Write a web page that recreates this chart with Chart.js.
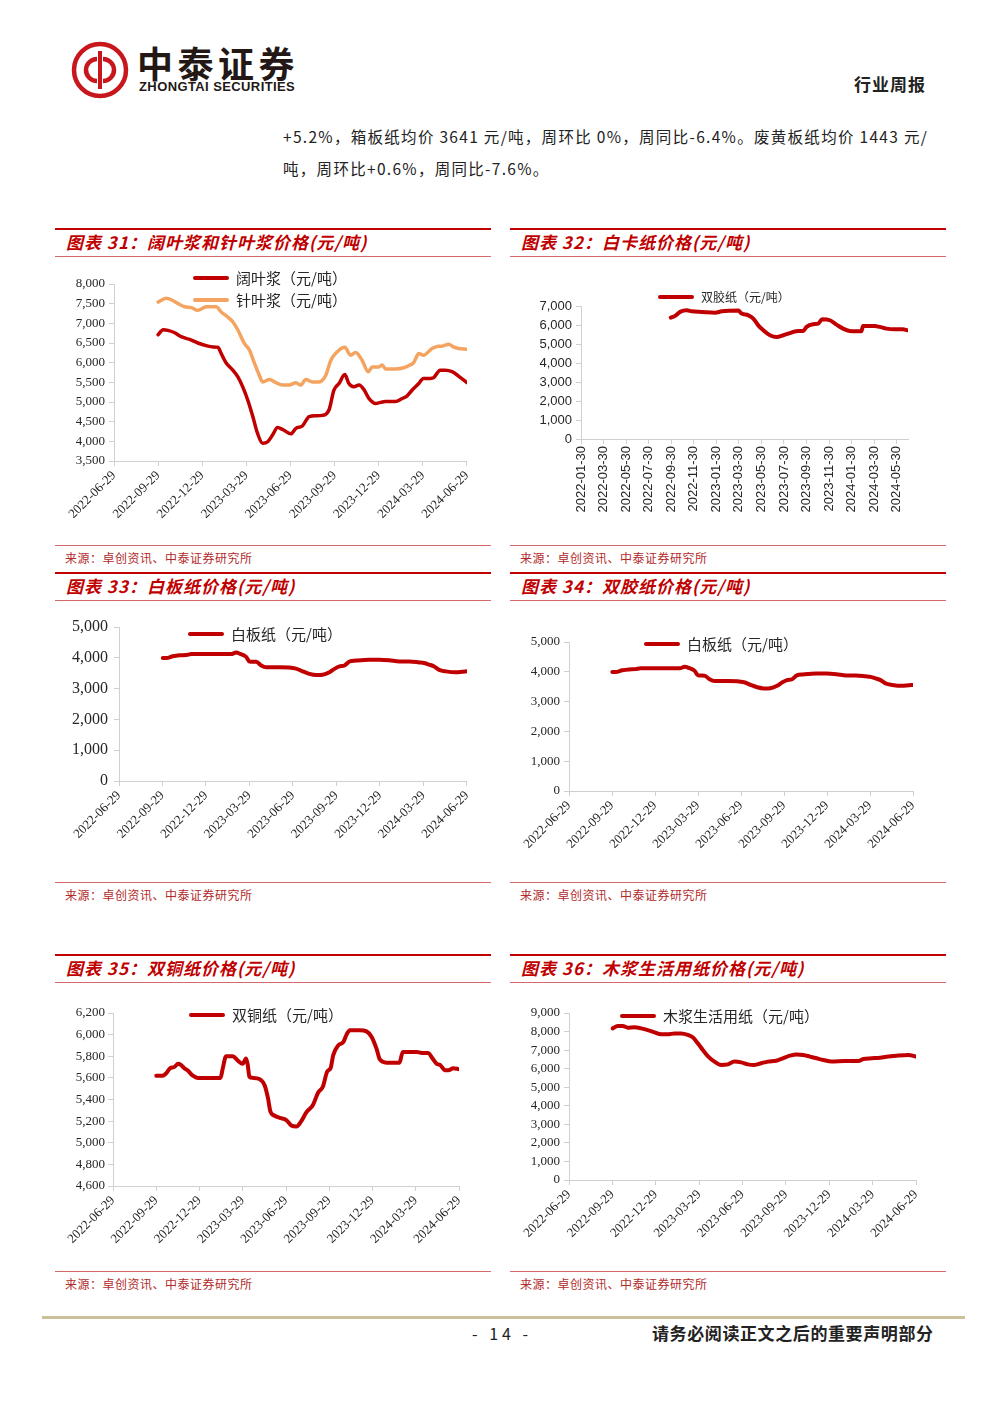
<!DOCTYPE html>
<html>
<head>
<meta charset="utf-8">
<script src="https://cdn.jsdelivr.net/npm/chart.js@4.4.1/dist/chart.umd.min.js"></script>
<style>
body { margin: 0; background: #fff; }
#page { position: relative; width: 1000px; height: 1413px; overflow: hidden; background: #fff; font-family: "Noto Sans CJK SC", sans-serif; }
.topline { position: absolute; height: 2px; background: #c00000; }
.thin { position: absolute; height: 1px; background: #d46a6a; }
.title { position: absolute; font-size: 17px; line-height: 20px; font-weight: bold; font-style: italic; color: #c00000; letter-spacing: 1px; white-space: nowrap; }
.src { position: absolute; font-size: 12px; line-height: 14px; color: #b22a2a; letter-spacing: 0.5px; white-space: nowrap; }
.leg { position: absolute; height: 16px; line-height: 16px; color: #262626; white-space: nowrap; display: flex; align-items: center; }
.leg i { display: inline-block; width: 36px; height: 4px; border-radius: 2px; margin-right: 7px; }
canvas { position: absolute; }
</style>
</head>
<body>
<div id="page">
  <svg style="position:absolute;left:70px;top:40px" width="60" height="60" viewBox="0 0 60 60">
    <circle cx="30" cy="30" r="26" fill="none" stroke="#c8161d" stroke-width="4.5"/>
    <path d="M30 11 V49" stroke="#c8161d" stroke-width="4"/>
    <path d="M27 19 A11 11 0 1 0 27 41" fill="none" stroke="#c8161d" stroke-width="4.5"/>
    <path d="M33 19 A11 11 0 1 1 33 41" fill="none" stroke="#c8161d" stroke-width="4.5"/>
  </svg>
  <div style="position:absolute;left:137px;top:40px;font-size:36px;line-height:44px;font-weight:bold;color:#231815;letter-spacing:4.5px;">中泰证券</div>
  <div style="position:absolute;left:139px;top:80px;font-family:'Liberation Sans';font-size:13px;line-height:14px;font-weight:bold;color:#231815;letter-spacing:0.4px;">ZHONGTAI SECURITIES</div>
  <div style="position:absolute;left:854px;top:73px;font-size:17px;line-height:22px;font-weight:bold;color:#222;letter-spacing:1px;">行业周报</div>

  <div style="position:absolute;left:283px;top:125px;font-size:15.5px;line-height:22px;color:#222;letter-spacing:1.3px;white-space:nowrap;">+5.2%，箱板纸均价 3641 元/吨，周环比 0%，周同比-6.4%。废黄板纸均价 1443 元/</div>
  <div style="position:absolute;left:283px;top:157px;font-size:15.5px;line-height:22px;color:#222;letter-spacing:1.3px;white-space:nowrap;">吨，周环比+0.6%，周同比-7.6%。</div>

  <canvas id="c31" width="425" height="280" style="left:55px;top:262px"></canvas>
  <canvas id="c32" width="425" height="280" style="left:510px;top:262px"></canvas>
  <canvas id="c33" width="425" height="270" style="left:55px;top:605px"></canvas>
  <canvas id="c34" width="425" height="270" style="left:510px;top:605px"></canvas>
  <canvas id="c35" width="425" height="280" style="left:55px;top:988px"></canvas>
  <canvas id="c36" width="425" height="280" style="left:510px;top:988px"></canvas>

  <div style="position:absolute;left:42px;top:1316px;width:923px;height:3px;background:#cdbf9c;"></div>
  <div style="position:absolute;left:472px;top:1322px;font-size:16px;line-height:22px;color:#222;letter-spacing:4px;">- 14 -</div>
  <div style="position:absolute;left:652px;top:1322px;font-size:17px;line-height:22px;font-weight:bold;color:#222;letter-spacing:0.6px;">请务必阅读正文之后的重要声明部分</div>
</div>
<script>
// x 轴: 以 2022-06-29 起算的周数 (一季 = 13 周)
var quarterLabels = ['2022-06-29', '2022-09-29', '2022-12-29', '2023-03-29', '2023-06-29',
  '2023-09-29', '2023-12-29', '2024-03-29', '2024-06-29'];
// 图32 x 轴: 以 2022-01-30 起算的月数
var monthLabels = ['2022-01-30', '2022-03-30', '2022-05-30', '2022-07-30', '2022-09-30',
  '2022-11-30', '2023-01-30', '2023-03-30', '2023-05-30', '2023-07-30', '2023-09-30',
  '2023-11-30', '2024-01-30', '2024-03-30', '2024-05-30'];

// 阔叶浆
var hardwoodWeek = [13, 14.5, 15.9, 17.9, 19.8, 22.3, 24.7, 27.7, 29.1, 30.6, 31.6, 33, 35, 36.5, 37.9,
  39.4, 40.9, 42.3, 43.8, 45.3, 46.7, 48.2, 49.7, 52.1, 53.6, 55.5, 57.5, 59.5, 61.4, 63.4,
  64.8, 66.3, 68, 69.2, 70.7, 72.2, 73.6, 75.1, 77.1, 78.5, 80, 82.9, 84.9, 86.3, 87.8,
  89.8, 91.2, 93.2, 94.2, 96.1, 97.6, 99.6, 101.5, 104];
var hardwoodPrice = [6710, 6840, 6820, 6760, 6660, 6590, 6500, 6420, 6400, 6390, 6230, 6000, 5810, 5640, 5390,
  5050, 4630, 4200, 3950, 3990, 4160, 4350, 4300, 4190, 4330, 4390, 4630, 4650, 4660, 4810,
  5300, 5470, 5700, 5470, 5390, 5430, 5320, 5090, 4960, 4990, 5010, 5010, 5090, 5150, 5300,
  5470, 5600, 5600, 5620, 5810, 5810, 5770, 5660, 5490];
// 针叶浆
var softwoodWeek = [13, 15.4, 16.9, 18.9, 20.8, 22.8, 24.7, 27.2, 30.1, 31.6, 33.5, 35, 36.5, 38.4, 39.9,
  41.4, 42.8, 43.8, 45.8, 47.7, 49.7, 51.6, 53.6, 55, 56.5, 58.5, 60.4, 62.4, 63.9, 65.8,
  68, 69.7, 71.2, 73.1, 74.9, 76.1, 78, 79, 80, 82.9, 85.4, 86.8, 88.3, 89.8, 91.2,
  93.7, 95.6, 96.6, 98.6, 100, 101.5, 104];
var softwoodPrice = [7540, 7640, 7600, 7500, 7420, 7400, 7330, 7420, 7420, 7290, 7160, 7040, 6830, 6490, 6320,
  5980, 5680, 5510, 5570, 5490, 5430, 5430, 5490, 5430, 5570, 5510, 5510, 5680, 6060, 6280,
  6390, 6190, 6260, 6060, 5770, 5890, 5890, 5940, 5840, 5840, 5870, 5920, 6000, 6230, 6190,
  6360, 6420, 6420, 6470, 6400, 6360, 6340];
// 图32 双胶纸
var offsetMonth = [7.96, 8.35, 8.79, 9.38, 9.82, 10.71, 11.89, 12.48, 13.95, 14.25, 14.84, 15.28,
  15.72, 16.17, 16.76, 17.35, 17.94, 18.67, 19.26, 19.71, 20.0, 20.59, 21.03, 21.39,
  22.07, 22.65, 23.24, 23.83, 24.87, 25.01, 26.05, 26.49, 27.08, 27.82, 28.55, 28.94];
var offsetPrice = [6390, 6480, 6690, 6770, 6720, 6690, 6650, 6720, 6760, 6600, 6510, 6340,
  5980, 5720, 5460, 5370, 5460, 5600, 5690, 5690, 5900, 6040, 6070, 6300,
  6250, 6020, 5810, 5690, 5670, 5950, 5950, 5900, 5810, 5770, 5770, 5720];
// 白板纸
var boardWeek = [13.1, 14.1, 16.1, 18.1, 20.1, 21.6, 29.1, 33.5, 35, 36.2, 38, 39, 41, 42.5, 44,
  48, 52.9, 54.9, 56.9, 58.9, 60.9, 62.9, 64.4, 65.9, 67.4, 68.9, 70.8, 74.8, 77.8, 80.8,
  83.8, 86.8, 89.7, 91.2, 92.7, 94.2, 95.7, 97.7, 100.7, 102.7, 104];
var boardPrice = [3990, 3990, 4050, 4080, 4090, 4120, 4120, 4120, 4170, 4130, 4030, 3880, 3870, 3750, 3690,
  3690, 3650, 3560, 3480, 3440, 3450, 3530, 3640, 3720, 3750, 3880, 3910, 3940, 3940, 3920,
  3880, 3880, 3850, 3830, 3780, 3720, 3610, 3560, 3530, 3550, 3560];
// 双铜纸
var coatedWeek = [13, 14.9, 15.9, 17.2, 18.4, 19.6, 20.4, 21.4, 22.4, 24, 25.5, 29, 32.3, 33, 34,
  36, 37.5, 39, 40, 40.5, 41, 42, 44, 45.6, 46.6, 47.3, 48.6, 50.1, 52.1, 53.6,
  55.1, 56.6, 58.1, 60.1, 61.6, 63.1, 64.4, 65.4, 66.2, 67.7, 69.2, 70.2, 71.2, 74.2, 76.2,
  77.7, 79.2, 80.2, 82.2, 86.1, 87.1, 91.3, 92.8, 94.8, 95.8, 97.3, 98.3, 99.8, 100.8, 102.3, 104];
var coatedPrice = [5620, 5620, 5640, 5690, 5700, 5730, 5720, 5690, 5670, 5620, 5600, 5600, 5600, 5690, 5800,
  5800, 5760, 5730, 5780, 5720, 5610, 5600, 5590, 5530, 5410, 5290, 5250, 5230, 5210, 5160,
  5150, 5200, 5280, 5350, 5460, 5520, 5660, 5690, 5810, 5900, 5930, 6000, 6040, 6040, 6030,
  5980, 5870, 5770, 5740, 5740, 5840, 5840, 5830, 5830, 5790, 5730, 5720, 5670, 5670, 5690, 5680];
// 木浆生活用纸
var tissueWeek = [13.1, 14.6, 16.1, 17.6, 19.6, 21.6, 23.6, 25.6, 27.6, 29.6, 31.6, 33.6, 35.6, 37.1, 38.6,
  40.1, 41.6, 43.6, 45.6, 47.6, 49.6, 51.6, 53.6, 55.6, 57.6, 59.6, 62.1, 64.1, 66.2, 68.2,
  70.2, 72.2, 74.2, 76.2, 78.7, 82.7, 86.7, 88.2, 90.7, 93.2, 95.7, 98.2, 101.7, 104];
var tissuePrice = [8170, 8300, 8300, 8210, 8230, 8170, 8080, 7960, 7850, 7850, 7900, 7900, 7820, 7690, 7370,
  7010, 6680, 6380, 6200, 6230, 6380, 6340, 6230, 6200, 6290, 6380, 6430, 6560, 6700, 6770,
  6740, 6650, 6560, 6470, 6380, 6410, 6410, 6520, 6560, 6590, 6650, 6700, 6740, 6650];

var RED = '#c00000';
var ORANGE = '#f4a460';
var page = document.getElementById('page');

function pts(xs, ys) {
  return xs.map(function (x, i) { return { x: x, y: ys[i] }; });
}

function addDiv(cls, left, top, html, width) {
  var d = document.createElement('div');
  d.className = cls;
  d.style.left = left + 'px';
  d.style.top = top + 'px';
  if (width) d.style.width = width + 'px';
  d.innerHTML = html || '';
  page.appendChild(d);
  return d;
}

function panel(x, top, srcTop, title) {
  addDiv('topline', x, top, '', 436);
  addDiv('title', x + 11, top + 4, title);
  addDiv('thin', x, top + 28, '', 436);
  addDiv('thin', x, srcTop, '', 436);
  addDiv('src', x + 10, srcTop + 6, '来源：卓创资讯、中泰证券研究所');
}

function legend(left, cy, label, color, size) {
  var d = addDiv('leg', left, cy - 8, '<i style="background:' + color + '"></i>' + label);
  d.style.fontSize = size + 'px';
}

function lineChart(id, datasets, c) {
  var tickFont = { family: c.family, size: c.xSize };
  return new Chart(document.getElementById(id), {
    type: 'line',
    data: { datasets: datasets },
    options: {
      responsive: false,
      animation: false,
      events: [],
      layout: { padding: { top: c.padTop, right: c.padRight, left: 0, bottom: 0 } },
      plugins: { legend: { display: false }, tooltip: { enabled: false } },
      elements: {
        point: { radius: 0 },
        line: { tension: 0.3, cubicInterpolationMode: 'monotone', borderJoinStyle: 'round', borderCapStyle: 'round' }
      },
      scales: {
        x: {
          type: 'linear', min: c.xMin, max: c.xMax,
          afterFit: function (s) { s.height = c.xH; },
          afterBuildTicks: function (s) { s.ticks = c.xTicks.map(function (v) { return { value: v }; }); },
          ticks: {
            autoSkip: false, minRotation: c.rot, maxRotation: c.rot, padding: 2,
            color: '#262626', font: tickFont,
            callback: function (v, i) { return c.xLabels[i]; }
          },
          grid: { drawOnChartArea: false, tickLength: 5, color: '#d0d0d0' },
          border: { color: '#d0d0d0' }
        },
        y: {
          min: c.yMin, max: c.yMax,
          afterFit: function (s) { s.width = c.yW; },
          ticks: {
            autoSkip: false, stepSize: c.step, padding: c.yPad, color: '#262626',
            font: { family: c.family, size: c.ySize },
            callback: function (v) { return v.toLocaleString('en-US'); }
          },
          grid: { drawOnChartArea: false, tickLength: 5, color: '#d0d0d0' },
          border: { color: '#d0d0d0' }
        }
      }
    }
  });
}

var qTicks = [];
for (var q = 0; q <= 8; q++) qTicks.push(q * 13);
var mTicks = [];
for (var m = 0; m <= 28; m += 2) mTicks.push(m);

var serif = 'Liberation Serif';

// 图表 31
panel(55, 228, 545, '图表 31：阔叶浆和针叶浆价格(元/吨)');
lineChart('c31', [
  { label: '阔叶浆（元/吨）', data: pts(hardwoodWeek, hardwoodPrice), borderColor: RED, borderWidth: 3.5 },
  { label: '针叶浆（元/吨）', data: pts(softwoodWeek, softwoodPrice), borderColor: ORANGE, borderWidth: 3.5 }
], { family: serif, xSize: 13, ySize: 13, yPad: 4, xMin: 0, xMax: 104, xTicks: qTicks, xLabels: quarterLabels, rot: 45,
  yMin: 3500, yMax: 8000, step: 500, yW: 59, xH: 81, padTop: 22, padRight: 12 });
legend(193, 278, '阔叶浆（元/吨）', RED, 15);
legend(193, 300, '针叶浆（元/吨）', ORANGE, 15);

// 图表 32
panel(510, 228, 545, '图表 32：白卡纸价格(元/吨)');
lineChart('c32', [
  { label: '双胶纸（元/吨）', data: pts(offsetMonth, offsetPrice), borderColor: RED, borderWidth: 4 }
], { family: 'Liberation Sans', xSize: 13, ySize: 13, yPad: 4, xMin: 0, xMax: 29, xTicks: mTicks, xLabels: monthLabels, rot: 90,
  yMin: 0, yMax: 7000, step: 1000, yW: 71, xH: 103, padTop: 44, padRight: 27 });
legend(658, 297, '双胶纸（元/吨）', RED, 12);

// 图表 33
panel(55, 572, 882, '图表 33：白板纸价格(元/吨)');
lineChart('c33', [
  { label: '白板纸（元/吨）', data: pts(boardWeek, boardPrice), borderColor: RED, borderWidth: 4 }
], { family: serif, xSize: 13, ySize: 16, yPad: 6, xMin: 0, xMax: 104, xTicks: qTicks, xLabels: quarterLabels, rot: 45,
  yMin: 0, yMax: 5000, step: 1000, yW: 64, xH: 94, padTop: 22, padRight: 12 });
legend(188, 634, '白板纸（元/吨）', RED, 15);

// 图表 34
panel(510, 572, 882, '图表 34：双胶纸价格(元/吨)');
lineChart('c34', [
  { label: '白板纸（元/吨）', data: pts(boardWeek, boardPrice), borderColor: RED, borderWidth: 4 }
], { family: serif, xSize: 13, ySize: 13, yPad: 4, xMin: 0, xMax: 104, xTicks: qTicks, xLabels: quarterLabels, rot: 45,
  yMin: 0, yMax: 5000, step: 1000, yW: 59, xH: 84, padTop: 37, padRight: 22 });
legend(644, 644, '白板纸（元/吨）', RED, 15);

// 图表 35
panel(55, 954, 1271, '图表 35：双铜纸价格(元/吨)');
lineChart('c35', [
  { label: '双铜纸（元/吨）', data: pts(coatedWeek, coatedPrice), borderColor: RED, borderWidth: 4 }
], { family: serif, xSize: 13, ySize: 13, yPad: 3, xMin: 0, xMax: 104, xTicks: qTicks, xLabels: quarterLabels, rot: 45,
  yMin: 4600, yMax: 6200, step: 200, yW: 58, xH: 82, padTop: 25, padRight: 21 });
legend(189, 1015, '双铜纸（元/吨）', RED, 15);

// 图表 36
panel(510, 954, 1271, '图表 36：木浆生活用纸价格(元/吨)');
lineChart('c36', [
  { label: '木浆生活用纸（元/吨）', data: pts(tissueWeek, tissuePrice), borderColor: RED, borderWidth: 4 }
], { family: serif, xSize: 13, ySize: 13, yPad: 4, xMin: 0, xMax: 104, xTicks: qTicks, xLabels: quarterLabels, rot: 45,
  yMin: 0, yMax: 9000, step: 1000, yW: 59, xH: 88, padTop: 25, padRight: 19 });
legend(620, 1016, '木浆生活用纸（元/吨）', RED, 15);
</script>
</body>
</html>
